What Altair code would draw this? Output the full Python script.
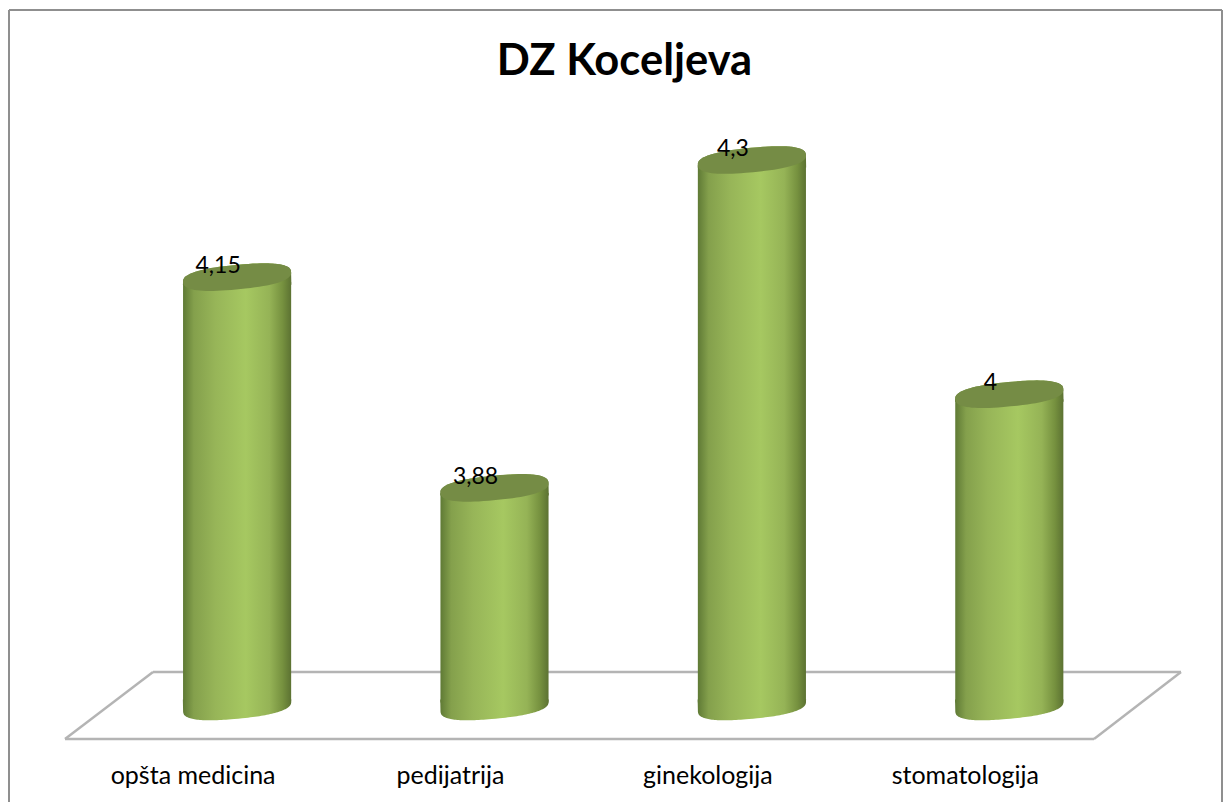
import math
import altair as alt
import pandas as pd

categories = ["opšta medicina", "pedijatrija", "ginekologija", "stomatologija"]
values = [4.15, 3.88, 4.3, 4.0]
value_labels = ["4,15", "3,88", "4,3", "4"]
base_value = 3.6

df = pd.DataFrame({"cat": categories, "value": values, "label": value_labels, "base": [base_value] * 4})

# tilted, slightly squared ellipse outlines, in the unit square used by custom symbols
A, B, TILT, POW = 1.0, 0.225, math.radians(5.5), 2 / 2.5


def ell(t):
    c, s = math.cos(t), math.sin(t)
    x = A * math.copysign(abs(c) ** POW, c)
    y = B * math.copysign(abs(s) ** POW, s)
    return (x * math.cos(TILT) + y * math.sin(TILT), -x * math.sin(TILT) + y * math.cos(TILT))


def path(pts):
    return "M" + " L".join(f"{x:.4f} {y:.4f}" for x, y in pts) + " Z"


N = 80
full = [ell(2 * math.pi * i / N) for i in range(N)]
upper = [ell(-math.pi * i / N) for i in range(N + 1)]
lower = [ell(math.pi * i / N) for i in range(N + 1)]
cap_shape = path(full)
top_shape = path(upper + [(-1.0, 0.14), (1.0, 0.14)])
bottom_shape = path(lower + [(-1.0, -0.13), (1.0, -0.13)])
SIZE = 108.5 ** 2

grad = alt.Gradient(
    gradient="linear", x1=0, x2=1, y1=0, y2=0,
    stops=[
        alt.GradientStop(color="#5f7a35", offset=0),
        alt.GradientStop(color="#84a04c", offset=0.1),
        alt.GradientStop(color="#97b558", offset=0.3),
        alt.GradientStop(color="#a6c861", offset=0.58),
        alt.GradientStop(color="#95b356", offset=0.8),
        alt.GradientStop(color="#76913f", offset=0.92),
        alt.GradientStop(color="#5c7232", offset=1),
    ],
)

FONT = "Lato"
x = alt.X(
    "cat:N", sort=categories, title=None,
    scale=alt.Scale(range=[100.4, 1130], paddingInner=0.58, paddingOuter=0.29),
    axis=alt.Axis(domain=False, ticks=False, labelAngle=0, labelFont=FONT, labelFontSize=25,
                  labelColor="#000000", labelOffset=-44, labelPadding=7, grid=False, labelOverlap=False),
)
y = alt.Y("value:Q", title=None, axis=None, scale=alt.Scale(domain=[3.6, 4.3], range=[598.5, 52]))
y_base = alt.Y("base:Q", title=None, axis=None, scale=alt.Scale(domain=[3.6, 4.3], range=[598.5, 52]))

GRID = "#b4b4b4"
BORDER = "#8f8f8f"


def seg(x0, y0, x1, y1, color, w):
    return alt.Chart(df.iloc[:1]).mark_rule(color=color, strokeWidth=w).encode(
        x=alt.value(x0), x2=alt.value(x1), y=alt.value(y0), y2=alt.value(y1)
    )


frame = [
    seg(1, -98, 1214, -98, BORDER, 2),
    seg(1, -98, 1, 694, BORDER, 2),
    seg(1214, -98, 1214, 694, BORDER, 2),
]
floor = [
    seg(57, 631, 145, 564, GRID, 2.4),
    seg(145, 564, 1173, 564, GRID, 2.4),
    seg(1173, 564, 1086, 631, GRID, 2.4),
    seg(57, 631, 1086, 631, GRID, 2.4),
]

bottom = alt.Chart(df).mark_point(shape=bottom_shape, size=SIZE, filled=True, fill=grad, opacity=1, strokeWidth=0).encode(x=x, y=y_base)
body = alt.Chart(df).mark_bar(fill=grad, yOffset=5, y2Offset=-4).encode(x=x, y=y, y2="base:Q")
top = alt.Chart(df).mark_point(shape=top_shape, size=SIZE, filled=True, fill=grad, opacity=1, strokeWidth=0).encode(x=x, y=y)
cap = alt.Chart(df).mark_point(shape=cap_shape, size=SIZE, filled=True, fill="#758c45", opacity=1, strokeWidth=0).encode(x=x, y=y)
text = alt.Chart(df).mark_text(font=FONT, fontSize=23, color="#000000", dx=-19, dy=-11, baseline="middle").encode(x=x, y=y, text="label:N")

chart = alt.layer(*frame, *floor, bottom, body, top, cap, text).properties(
    width=1216,
    height=648,
    padding={"left": 0, "right": 0, "top": 1, "bottom": 0},
    autosize=alt.AutoSizeParams(type="pad"),
    background="#ffffff",
    title=alt.TitleParams("DZ Koceljeva", font=FONT, fontSize=43.5, fontWeight="bold", color="#000000",
                          anchor="middle", frame="group", offset=-75, dx=8.5),
).configure_view(stroke=None)

chart.save("out.html", embed_options={"renderer": "svg", "actions": False})
